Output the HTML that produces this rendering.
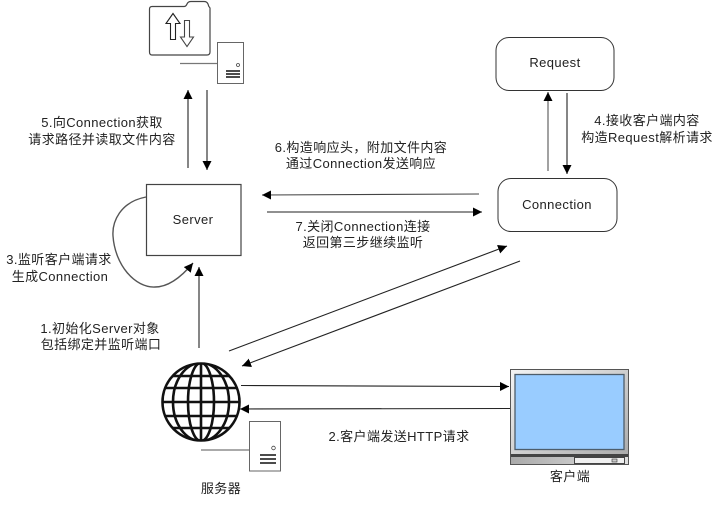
<!DOCTYPE html>
<html><head><meta charset="utf-8"><style>
html,body{margin:0;padding:0;background:#fff}
svg{display:block}
text{font-family:"Liberation Sans","Noto Sans CJK SC",sans-serif;font-size:13px;fill:#222;text-anchor:middle;letter-spacing:.4px}
</style></head><body>
<svg width="720" height="505" viewBox="0 0 720 505" xmlns="http://www.w3.org/2000/svg">
<defs>
<marker id="a" markerUnits="userSpaceOnUse" markerWidth="10" markerHeight="10" refX="9" refY="4.5" orient="auto"><path d="M0 0L9 4.500L0 9z" fill="#000"/></marker>
<clipPath id="g"><circle cx="201" cy="402" r="38"/></clipPath>
<linearGradient id="bz" x1="0" y1="0" x2="1" y2="1"><stop offset="0" stop-color="#f4f4f4"/><stop offset="1" stop-color="#a8a8a8"/></linearGradient>
<linearGradient id="bs" x1="0" y1="0" x2="1" y2="0"><stop offset="0" stop-color="#aaa"/><stop offset="1" stop-color="#e0e0e0"/></linearGradient>
</defs>

<!-- folder -->
<path d="M152 6.500H184Q186 6.500 187 4Q188 1.500 191 1.500H204Q207 1.500 208 4Q208.500 6.500 210 8V52Q210 55 207 55H152Q149.500 55 149.500 52V9Q149.500 6.500 152 6.500Z" fill="#fff" stroke="#444" stroke-width="1.200"/>
<path d="M173 13.500L166 23.500H170.500V39.500H175.500V23.500H180Z" fill="#fff" stroke="#222" stroke-width="1.100"/>
<path d="M184.500 20.500V37H180.500L187 46.500L193.500 37H189.500V20.500Z" fill="#fff" stroke="#444" stroke-width="1.100"/>
<!-- top small server -->
<rect x="217.500" y="42.500" width="26" height="41" fill="#fff" stroke="#666" stroke-width="1"/>
<line x1="180" y1="63.500" x2="217" y2="63.500" stroke="#777" stroke-width="1.200"/>
<circle cx="238" cy="65" r="1.500" fill="none" stroke="#444" stroke-width=".8"/>
<path d="M226 71H240M226 74H240M226 77H240" stroke="#333" stroke-width="1.800"/>

<!-- Request -->
<rect x="496" y="37.500" width="118" height="53" rx="13" fill="#fff" stroke="#333" stroke-width="1"/>
<text x="555" y="67">Request</text>
<!-- Connection -->
<rect x="498" y="178.500" width="119" height="53" rx="13" fill="#fff" stroke="#333" stroke-width="1"/>
<text x="557" y="209">Connection</text>
<!-- Server -->
<rect x="146.500" y="184.500" width="94.500" height="71" fill="#fff" stroke="#444" stroke-width="1.200"/>
<text x="193" y="224">Server</text>

<!-- arrows -->
<g fill="none" stroke="#222" stroke-width="1.100">
<line x1="188" y1="168" x2="188" y2="90" marker-end="url(#a)"/>
<line x1="207" y1="90" x2="207" y2="170" marker-end="url(#a)"/>
<line x1="548" y1="171" x2="548" y2="92" stroke="#555" marker-end="url(#a)"/>
<line x1="567" y1="93" x2="567" y2="174" marker-end="url(#a)"/>
<line x1="479" y1="194" x2="262" y2="195" stroke="#444" marker-end="url(#a)"/>
<line x1="267" y1="212" x2="482" y2="212" marker-end="url(#a)"/>
<line x1="199" y1="348" x2="199" y2="267" marker-end="url(#a)"/>
<path d="M146 197C120 202 112 222 113 236C115 265 135 288 155 287C170 287 183 275 193 263" stroke="#555" stroke-width="1.400" marker-end="url(#a)"/>
<line x1="229" y1="351" x2="507" y2="246" marker-end="url(#a)"/>
<line x1="520" y1="261" x2="242" y2="366" marker-end="url(#a)"/>
<line x1="241" y1="385.500" x2="509" y2="386.500" marker-end="url(#a)"/>
<line x1="510" y1="408.500" x2="240" y2="409" marker-end="url(#a)"/>
</g>

<!-- globe -->
<g>
<circle cx="201" cy="402" r="38" fill="#fff"/>
<g clip-path="url(#g)" fill="none" stroke="#111" stroke-width="2.600">
<line x1="201" y1="360" x2="201" y2="444"/>
<ellipse cx="201" cy="402" rx="13" ry="39"/>
<ellipse cx="201" cy="402" rx="28" ry="39"/>
<path d="M160 376H242M160 388H242M160 402H242M160 416H242M160 428H242"/>
</g>
<circle cx="201" cy="402" r="38.500" fill="none" stroke="#111" stroke-width="2.600"/>
</g>

<!-- lower server -->
<rect x="249.500" y="421.500" width="31" height="49.500" fill="#fff" stroke="#666" stroke-width="1"/>
<line x1="201" y1="450" x2="249" y2="450" stroke="#555" stroke-width="1"/>
<circle cx="273.500" cy="448" r="1.800" fill="none" stroke="#444" stroke-width=".8"/>
<path d="M260 455H276M260 459H276M260 463H276" stroke="#333" stroke-width="1.800"/>

<!-- monitor -->
<rect x="510.500" y="369.500" width="118" height="95" fill="url(#bz)" stroke="#555" stroke-width="1"/>
<rect x="515" y="374.500" width="109" height="75" fill="#99ccff" stroke="#4d5d6b" stroke-width="1.300"/>
<rect x="511" y="454" width="117" height="3" fill="#444"/>
<rect x="511" y="457" width="117" height="7" fill="url(#bs)"/>
<rect x="574.500" y="457.500" width="50" height="6" fill="#f0f0f0" stroke="#333" stroke-width=".9"/>
<rect x="612" y="459" width="5" height="3" fill="#ccc" stroke="#333" stroke-width=".6"/>

<!-- labels -->
<text x="102" y="127">5.向Connection获取</text>
<text x="102" y="144">请求路径并读取文件内容</text>
<text x="361" y="152">6.构造响应头，附加文件内容</text>
<text x="361" y="168">通过Connection发送响应</text>
<text x="363" y="231">7.关闭Connection连接</text>
<text x="363" y="247">返回第三步继续监听</text>
<text x="647" y="125">4.接收客户端内容</text>
<text x="647" y="142">构造Request解析请求</text>
<text x="59" y="264">3.监听客户端请求</text>
<text x="60" y="281">生成Connection</text>
<text x="100" y="333">1.初始化Server对象</text>
<text x="101" y="349">包括绑定并监听端口</text>
<text x="399" y="441">2.客户端发送HTTP请求</text>
<text x="221" y="493">服务器</text>
<text x="570" y="481">客户端</text>
</svg>
</body></html>
